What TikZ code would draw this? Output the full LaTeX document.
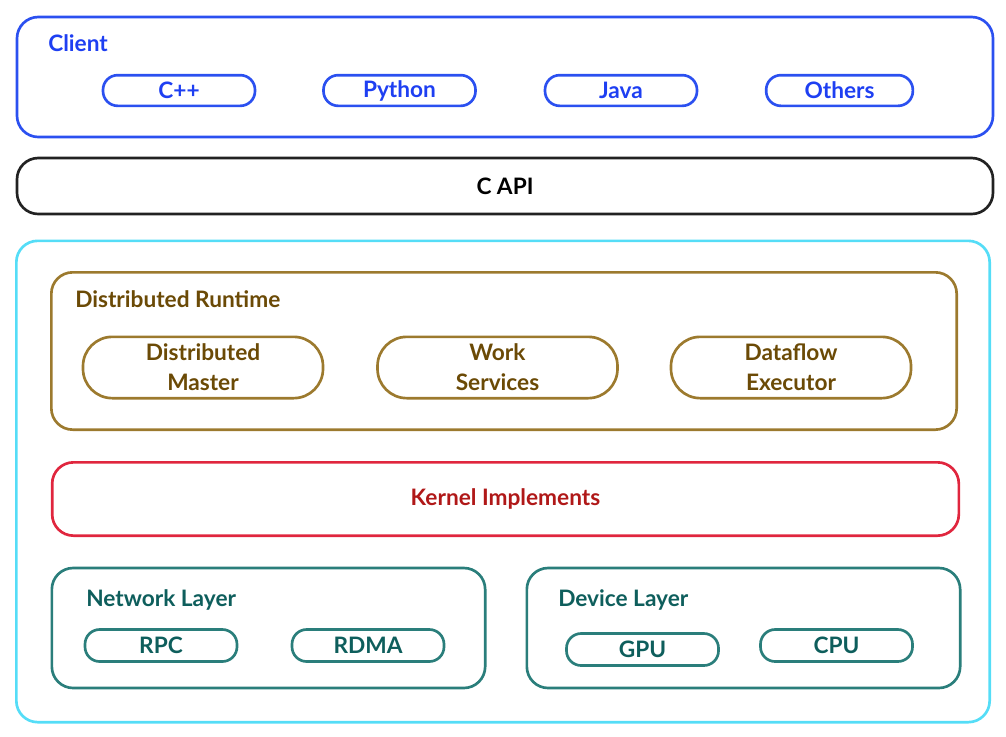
\documentclass[tikz,border=0pt]{standalone}
\usepackage{fontspec}
\setmainfont{Lato}
\definecolor{clientblue}{HTML}{2B50F0}
\definecolor{clienttext}{HTML}{1E3FF2}
\definecolor{apiblack}{HTML}{222222}
\definecolor{runtimecyan}{HTML}{55DDF7}
\definecolor{distbrown}{HTML}{9C7A2E}
\definecolor{disttext}{HTML}{6B4A06}
\definecolor{kernelred}{HTML}{E0263E}
\definecolor{kerneltext}{HTML}{B01818}
\definecolor{layerteal}{HTML}{2A7E7B}
\definecolor{layertext}{HTML}{0E5E5C}
\tikzset{
  box/.style={draw, line width=2pt, rounded corners=16pt, inner sep=0pt},
  pill/.style={draw, line width=2pt, rounded corners=11pt, inner sep=0pt,
    align=center, font=\bfseries\fontsize{17}{22.5}\selectfont},
  title/.style={anchor=west, inner sep=0pt, font=\bfseries\fontsize{17}{20}\selectfont},
}
\begin{document}
\begin{tikzpicture}[x=0.75pt,y=-0.75pt]
            \useasboundingbox (0,0) rectangle (1006,736);
            % client languages
            \node[box, draw=clientblue, minimum width=732pt, minimum height=90pt] (client) at (505,77) {};
            \node[title, text=clienttext] (clientlbl) at (48,43) {Client};
            \node[pill, draw=clientblue, text=clienttext, minimum width=114pt, minimum height=23pt] (cpp) at (179,90.5) {C++};
            \node[pill, draw=clientblue, text=clienttext, minimum width=114pt, minimum height=23pt] (python) at (399.5,90.5) {Python};
            \node[pill, draw=clientblue, text=clienttext, minimum width=114pt, minimum height=23pt] (java) at (621,90.5) {Java};
            \node[pill, draw=clientblue, text=clienttext, minimum width=110pt, minimum height=23pt] (others) at (839.5,90.5) {Others};
            % C API
            \node[box, draw=apiblack, minimum width=732pt, minimum height=42pt,
                  font=\bfseries\fontsize{17}{20}\selectfont] (capi) at (505,186) {C API};
            % runtime
            \node[box, draw=runtimecyan, minimum width=730pt, minimum height=361pt] (runtime) at (503,481.5) {};
            \node[box, draw=distbrown, minimum width=679pt, minimum height=118pt] (dist) at (504,351) {};
            \node[title, text=disttext] (distlbl) at (75,299) {Distributed Runtime};
            \node[pill, draw=distbrown, text=disttext, minimum width=180pt, minimum height=46pt, rounded corners=22pt] (master) at (203,367.5) {Distributed\\Master};
            \node[pill, draw=distbrown, text=disttext, minimum width=180pt, minimum height=46pt, rounded corners=22pt] (work) at (497.5,367.5) {Work\\Services};
            \node[pill, draw=distbrown, text=disttext, minimum width=180pt, minimum height=46pt, rounded corners=22pt] (dataflow) at (791,367.5) {Dataflow\\Executor};
            % kernels
            \node[box, draw=kernelred, text=kerneltext, minimum width=680pt, minimum height=55pt,
                  font=\bfseries\fontsize{17}{20}\selectfont] (kernel) at (505.5,499) {Kernel Implements};
            % network and device
            \node[box, draw=layerteal, minimum width=325pt, minimum height=90pt] (network) at (268.5,628) {};
            \node[title, text=layertext] (netlbl) at (86,600) {Network Layer};
            \node[pill, draw=layerteal, text=layertext, minimum width=114pt, minimum height=24pt] (rpc) at (161,645.5) {RPC};
            \node[pill, draw=layerteal, text=layertext, minimum width=114pt, minimum height=24pt] (rdma) at (368,645.5) {RDMA};
            \node[box, draw=layerteal, minimum width=325pt, minimum height=90pt] (device) at (743.5,628) {};
            \node[title, text=layertext] (devlbl) at (558,600) {Device Layer};
            \node[pill, draw=layerteal, text=layertext, minimum width=114pt, minimum height=24pt] (gpu) at (642.5,649.5) {GPU};
            \node[pill, draw=layerteal, text=layertext, minimum width=114pt, minimum height=24pt] (cpu) at (836.5,645.5) {CPU};
\end{tikzpicture}
\end{document}
